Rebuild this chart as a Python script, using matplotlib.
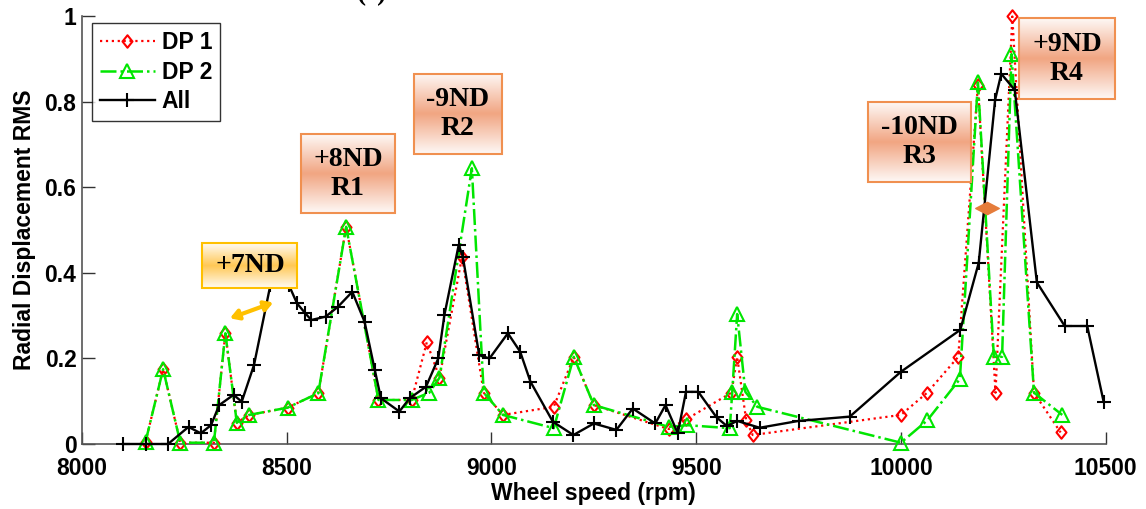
import matplotlib.pyplot as plt
import numpy as np
from matplotlib.path import Path

# wheel speed (rpm) / radial displacement RMS
all_rpm = [8100, 8155, 8210, 8260, 8290, 8315, 8335, 8370, 8390, 8420, 8460, 8505,
           8525, 8545, 8560, 8595, 8625, 8660, 8690, 8715, 8730, 8775, 8800, 8840,
           8870, 8885, 8920, 8930, 8970, 8995, 9040, 9070, 9095, 9150, 9200, 9250,
           9305, 9345, 9400, 9425, 9455, 9475, 9505, 9550, 9575, 9600, 9655, 9750,
           9875, 10000, 10145, 10190, 10230, 10245, 10278, 10332, 10400, 10455, 10495]
all_rms = [0, 0, 0, 0.040, 0.025, 0.044, 0.091, 0.115, 0.099, 0.185, 0.372, 0.372,
           0.329, 0.306, 0.290, 0.298, 0.321, 0.356, 0.286, 0.173, 0.107, 0.076, 0.107, 0.134,
           0.200, 0.302, 0.466, 0.438, 0.208, 0.200, 0.259, 0.216, 0.146, 0.052, 0.021, 0.048,
           0.033, 0.083, 0.048, 0.091, 0.025, 0.122, 0.122, 0.062, 0.042, 0.054, 0.038, 0.054,
           0.064, 0.169, 0.267, 0.424, 0.805, 0.866, 0.828, 0.378, 0.276, 0.276, 0.099]

dp1_rpm = [8155, 8198, 8240, 8322, 8350, 8378, 8408, 8502, 8577, 8645, 8724, 8805,
           8842, 8873, 8928, 8981, 9028, 9152, 9201, 9250, 9433, 9476, 9586, 9600,
           9622, 9638, 10000, 10064, 10140, 10188, 10231, 10272, 10325, 10390]
dp1_rms = [0.005, 0.175, 0.003, 0.003, 0.259, 0.050, 0.068, 0.085, 0.119, 0.508, 0.103, 0.103,
           0.238, 0.155, 0.438, 0.120, 0.068, 0.087, 0.204, 0.091, 0.035, 0.058, 0.120, 0.204,
           0.056, 0.021, 0.068, 0.120, 0.204, 0.840, 0.120, 1.000, 0.120, 0.027]

dp2_rpm = [8155, 8198, 8240, 8322, 8350, 8378, 8408, 8502, 8577, 8645, 8724, 8805,
           8848, 8873, 8952, 8981, 9028, 9152, 9201, 9250, 9433, 9478, 9582, 9588,
           9600, 9620, 9649, 10000, 10064, 10144, 10188, 10227, 10247, 10270, 10325, 10394]
dp2_rms = [0.005, 0.175, 0.003, 0.003, 0.259, 0.050, 0.068, 0.085, 0.119, 0.508, 0.103, 0.103,
           0.120, 0.155, 0.645, 0.120, 0.068, 0.037, 0.204, 0.091, 0.040, 0.044, 0.037, 0.122,
           0.304, 0.122, 0.087, 0.003, 0.055, 0.152, 0.846, 0.204, 0.204, 0.912, 0.120, 0.068]

x_ticks = [8000, 8500, 9000, 9500, 10000, 10500]
y_ticks = [0, 0.2, 0.4, 0.6, 0.8, 1]
y_ticklabels = ['0', '0.2', '0.4', '0.6', '0.8', '1']

# mode labels: text, x0, x1, y0, y1 (data units), colour
labels = ['+7ND', '+8ND\nR1', '-9ND\nR2', '-10ND\nR3', '+9ND\nR4']
label_boxes = [(8294, 8526, 0.364, 0.469), (8534, 8765, 0.540, 0.724),
               (8811, 9025, 0.678, 0.866), (9919, 10171, 0.614, 0.799),
               (10288, 10523, 0.807, 0.996)]
label_kind = ['yellow', 'orange', 'orange', 'orange', 'orange']

plt.rcParams['font.family'] = ['Liberation Sans', 'DejaVu Sans']
plt.rcParams['font.weight'] = 'bold'

fig = plt.figure(figsize=(11.46, 5.09), dpi=100)
ax = fig.add_axes([0.0716, 0.1277, 0.8932, 0.8399])

# matlab-like diamond (a bit wider than 'd')
mdiamond = Path([(-0.8, 0), (0, 1), (0.8, 0), (0, -1), (-0.8, 0)],
                [Path.MOVETO, Path.LINETO, Path.LINETO, Path.LINETO, Path.CLOSEPOLY])

ax.plot(dp1_rpm, dp1_rms, ':', color='#ff0000', lw=1.6, marker=mdiamond, ms=9,
        mfc='none', mec='#ff0000', mew=1.5, label='DP 1', clip_on=False, zorder=3)
ax.plot(dp2_rpm, dp2_rms, '-.', color='#00e600', lw=1.8, marker='^', ms=9.5,
        mfc='none', mec='#00e600', mew=1.5, label='DP 2', clip_on=False, zorder=3)
ax.plot(all_rpm, all_rms, '-', color='black', lw=1.7, marker='+', ms=10,
        mew=1.5, label='All', clip_on=False, zorder=4)

ax.set_xlim(8000, 10500)
ax.set_ylim(0, 1)
ax.set_xticks(x_ticks)
ax.set_yticks(y_ticks)
ax.set_yticklabels(y_ticklabels)
ax.tick_params(direction='in', length=9, width=1, labelsize=16.5, colors='#333333',
               labelcolor='black')
ax.tick_params(axis='x', pad=9)
ax.tick_params(axis='y', pad=4)
for s in ['top', 'right']:
    ax.spines[s].set_visible(False)
for s in ['left', 'bottom']:
    ax.spines[s].set_color('#555555')
    ax.spines[s].set_linewidth(1.2)

ax.set_xlabel('Wheel speed (rpm)', fontsize=16.5, fontweight='bold', labelpad=2)
ax.set_ylabel('Radial Displacement RMS', fontsize=16.5, fontweight='bold', labelpad=6)

leg = ax.legend(loc='upper left', bbox_to_anchor=(0.0095, 0.9855), borderaxespad=0,
                fontsize=16.5, frameon=True, fancybox=False, edgecolor='black',
                handlelength=2.4, labelspacing=0.3, borderpad=0.35, handletextpad=0.3)
leg.get_frame().set_linewidth(1.0)

# gradient boxes
centres = {'orange': (np.array([241, 165, 130]) / 255.0, '#f09050'),
           'yellow': (np.array([255, 200, 85]) / 255.0, '#ffc000')}
s = np.linspace(0, 1, 60)
t = 1 - np.abs(2 * s - 1)
for txt, (x0, x1, y0, y1), kind in zip(labels, label_boxes, label_kind):
    c, edge = centres[kind]
    w = 0.08 + 0.92 * t
    grad = (1 - w)[:, None] * np.ones(3)[None, :] + w[:, None] * c[None, :]
    img = np.repeat(grad[:, None, :], 2, axis=1)
    ax.imshow(img, extent=[x0, x1, y0, y1], aspect='auto', origin='lower',
              zorder=5, clip_on=False, interpolation='bilinear')
    ax.add_patch(plt.Rectangle((x0, y0), x1 - x0, y1 - y0, fill=False,
                               edgecolor=edge, lw=1.5, zorder=6, clip_on=False))
    ax.text((x0 + x1) / 2, (y0 + y1) / 2, txt, ha='center', va='center',
            family=['Liberation Serif', 'DejaVu Serif'], fontweight='bold',
            fontsize=20, linespacing=1.2, zorder=7)

# double arrow at +7ND
ax.annotate('', xy=(8467, 0.331), xytext=(8361, 0.294),
            arrowprops=dict(arrowstyle='<|-|>,head_length=0.5,head_width=0.3',
                            color='#ffc000', lw=3, shrinkA=0, shrinkB=0), zorder=6)

# small double arrow near R3
diamond = Path([(-1, 0), (0, 0.52), (1, 0), (0, -0.52), (-1, 0)],
               [Path.MOVETO, Path.LINETO, Path.LINETO, Path.LINETO, Path.CLOSEPOLY])
ax.plot([10209], [0.551], marker=diamond, ms=17, color='#e57c3a', mec='#e57c3a', zorder=6)

ax.set_xlim(8000, 10500)
ax.set_ylim(0, 1)

# panel label cut off at top edge in the source figure
fig.text(0.3246, 1.0, '(c)', ha='center', va='baseline', fontsize=19.5,
         family=['Liberation Serif', 'DejaVu Serif'])

fig.savefig('out.png', dpi=100)
